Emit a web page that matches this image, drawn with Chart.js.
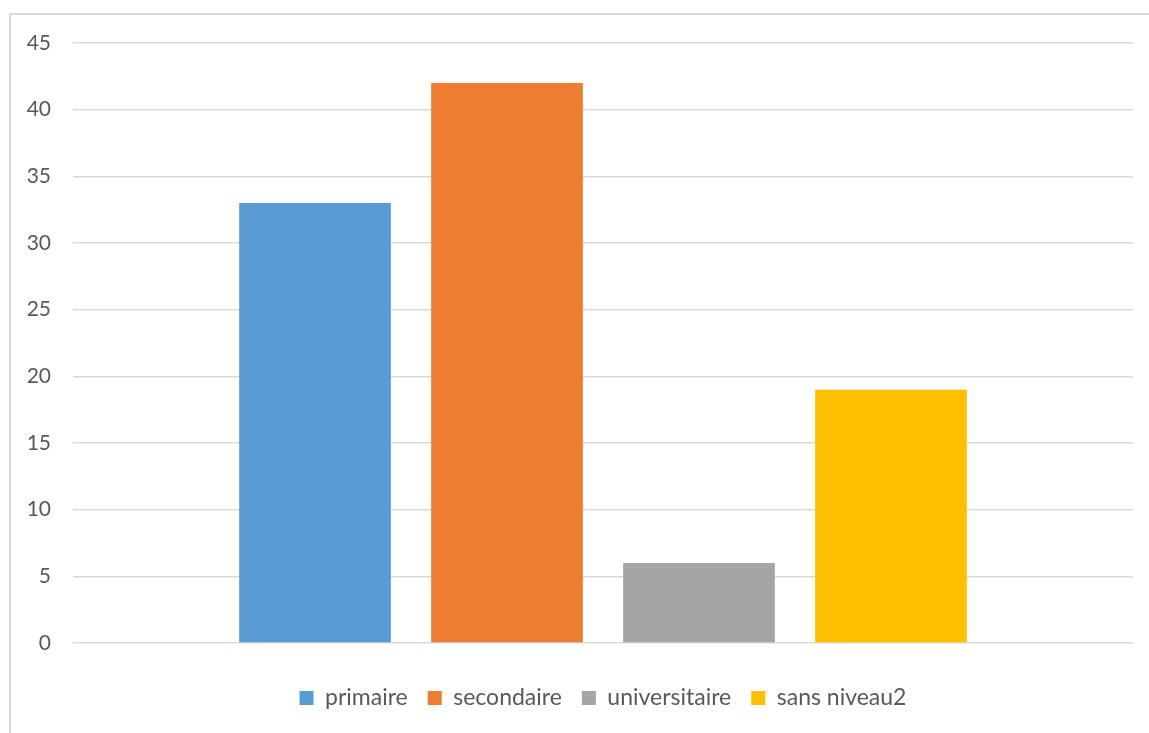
<!DOCTYPE html>
<html>
<head>
<meta charset="utf-8">
<script src="https://cdn.jsdelivr.net/npm/chart.js@4"></script>
<style>
    html, body { margin: 0; padding: 0; background: #ffffff; overflow: hidden; }
    #frame {
        position: absolute; left: 9px; top: 13px;
        width: 1150px; height: 740px;
        border: 2px solid #d9d9d9; box-sizing: border-box;
    }
    #wrap { position: absolute; left: 0; top: 0; width: 1149px; height: 750px; }
</style>
</head>
<body>
<div id="frame"></div>
<div id="wrap"><canvas id="niveauChart" width="1149" height="750"></canvas></div>
<script>
// Niveau d'instruction - effectifs
const categories = [""];
const seriesNames = ["primaire", "secondaire", "universitaire", "sans niveau2"];
const seriesValues = [33, 42, 6, 19];
const seriesColors = ["#5B9BD5", "#ED7D31", "#A5A5A5", "#FFC000"];
const yTicks = [0, 5, 10, 15, 20, 25, 30, 35, 40, 45];

document.addEventListener("DOMContentLoaded", function () {
    const ctx = document.getElementById("niveauChart").getContext("2d");

    const datasets = seriesNames.map((name, i) => ({
        label: name,
        data: [seriesValues[i]],
        backgroundColor: seriesColors[i],
        borderWidth: 0,
        categoryPercentage: 0.7245,
        barPercentage: 0.79
    }));

    new Chart(ctx, {
        type: "bar",
        data: { labels: categories, datasets: datasets },
        options: {
            responsive: false,
            animation: false,
            layout: { padding: { left: 0, right: 16, top: 43, bottom: 30.5 } },
            scales: {
                x: {
                    grid: { display: false, drawTicks: false },
                    border: { display: false },
                    ticks: { display: false },
                    afterFit: (scale) => { scale.height = 23.5; }
                },
                y: {
                    min: 0,
                    max: 45,
                    afterBuildTicks: (scale) => { scale.ticks = yTicks.map(v => ({ value: v })); },
                    afterFit: (scale) => { scale.width = 73; },
                    grid: { color: "#d9d9d9", lineWidth: 1.5, drawTicks: false },
                    border: { display: false },
                    ticks: {
                        padding: 22,
                        color: "#595959",
                        font: { family: "Lato", size: 21 }
                    }
                }
            },
            plugins: {
                legend: {
                    position: "bottom",
                    fullSize: false,
                    labels: {
                        boxWidth: 14,
                        boxHeight: 14,
                        padding: 20,
                        color: "#595959",
                        font: { family: "Lato", size: 23 }
                    }
                },
                tooltip: { enabled: false }
            }
        }
    });
});
</script>
</body>
</html>
